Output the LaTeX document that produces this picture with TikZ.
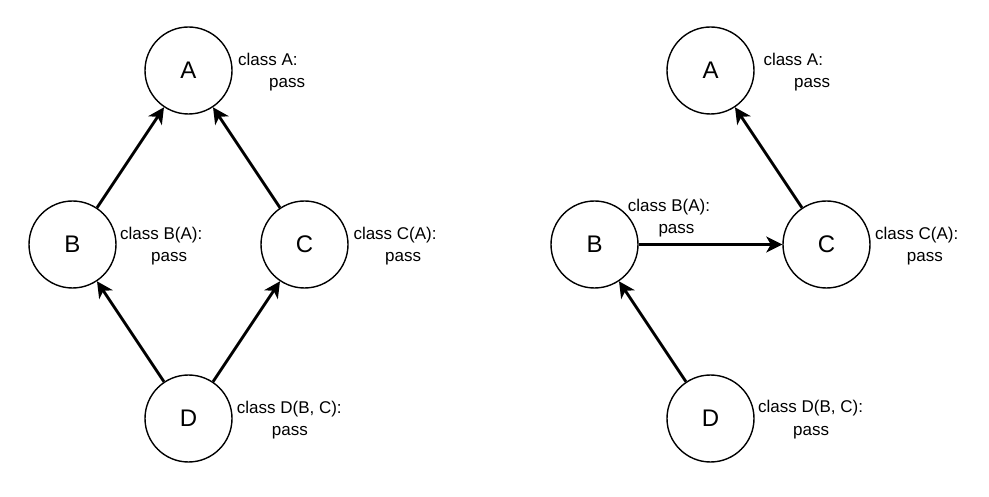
\documentclass[tikz,border=0pt]{standalone}
\usepackage{fontspec}
\setmainfont{Liberation Sans}
\usetikzlibrary{arrows.meta}
\tikzset{>={Stealth[length=16pt,width=16pt,inset=4.5pt]}}
\tikzstyle{cls}=[circle,draw,line width=1.4,minimum size=87,inner sep=0,font=\fontsize{24}{24}\selectfont]
\tikzstyle{edge}=[->,line width=2.8]
\tikzstyle{code}=[align=left,inner sep=0,anchor=base west,font=\fontsize{17}{22}\selectfont]
\newcommand{\pass}[1]{\\\hspace*{#1pt}pass}

\begin{document}
\begin{tikzpicture}[x=1pt,y=-1pt]
  \useasboundingbox (0,0) rectangle (989,497);

  % LEFT: DIAMOND
  \node[cls] (lA) at (188.5,70.5)  {A};
  \node[cls] (lB) at (72.5,244.5)  {B};
  \node[cls] (lC) at (304.5,244.5) {C};
  \node[cls] (lD) at (188.5,418.5) {D};
  % base is the "pass" line
  \node[code] (lAt) at (238,87.7)    {class A:\pass{31}};
  \node[code] (lBt) at (120,262)     {class B(A):\pass{31}};
  \node[code] (lCt) at (353.3,262)   {class C(A):\pass{31.7}};
  \node[code] (lDt) at (236.7,435.3) {class D(B, C):\pass{35}};
  \draw[edge] (lB) -- (lA);
  \draw[edge] (lC) -- (lA);
  \draw[edge] (lD) -- (lB);
  \draw[edge] (lD) -- (lC);

  % RIGHT: CHAIN
  \node[cls] (rA) at (710.5,70.5)  {A};
  \node[cls] (rB) at (594.5,244.5) {B};
  \node[cls] (rC) at (826.5,244.5) {C};
  \node[cls] (rD) at (710.5,418.5) {D};
  \node[code] (rAt) at (763.3,87.7)  {class A:\pass{30.7}};
  \node[code] (rBt) at (627.7,233.7) {class B(A):\pass{30.6}};
  \node[code] (rCt) at (875,262)     {class C(A):\pass{31.7}};
  \node[code] (rDt) at (758,435)     {class D(B, C):\pass{35}};
  \draw[edge] (rC) -- (rA);
  \draw[edge] (rB) -- (rC);
  \draw[edge] (rD) -- (rB);
\end{tikzpicture}
\end{document}
